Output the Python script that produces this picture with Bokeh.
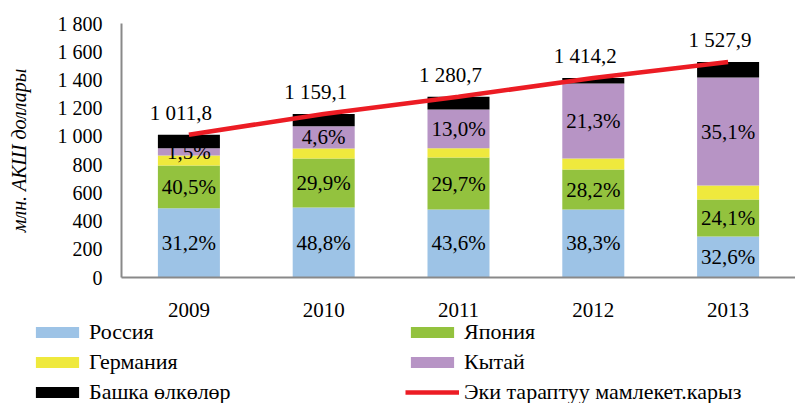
from bokeh.plotting import figure
from bokeh.layouts import column
from bokeh.models import ColumnDataSource, FactorRange, FixedTicker, Legend, LegendItem, Range1d
from bokeh.core.properties import value
from bokeh.embed import file_html
from bokeh.resources import INLINE

years = ["2009", "2010", "2011", "2012", "2013"]
russia = [491, 496, 482, 482, 291]
japan = [303, 347, 368, 283, 262]
germany = [71, 71, 66, 78, 99]
china = [51, 158, 275, 532, 765]
other = [96, 87, 90, 39, 111]
totals = [1011.8, 1159.1, 1280.7, 1414.2, 1527.9]

russia_pct = ["31,2%", "48,8%", "43,6%", "38,3%", "32,6%"]
japan_pct = ["40,5%", "29,9%", "29,7%", "28,2%", "24,1%"]
china_pct = ["1,5%", "4,6%", "13,0%", "21,3%", "35,1%"]
total_labels = ["1 011,8", "1 159,1", "1 280,7", "1 414,2", "1 527,9"]

y_ticks = [0, 200, 400, 600, 800, 1000, 1200, 1400, 1600, 1800]
y_tick_labels = ["0", "200", "400", "600", "800", "1 000", "1 200", "1 400", "1 600", "1 800"]

series_names = ["Россия", "Япония", "Германия", "Кытай", "Башка өлкөлөр"]
series_keys = ["russia", "japan", "germany", "china", "other"]
colors = ["#9DC3E6", "#93C23E", "#EFE93D", "#B794C5", "#000000"]
line_name = "Эки тараптуу мамлекет.карыз"
line_color = "#EC1C24"

FONT = "Liberation Serif"

src = ColumnDataSource(dict(years=years, russia=russia, japan=japan, germany=germany,
                            china=china, other=other))

p = figure(width=795, height=325, x_range=FactorRange(*years), y_range=Range1d(0, 1800),
           output_backend="svg", toolbar_location=None,
           min_border_left=121, min_border_right=0, min_border_top=23, min_border_bottom=48)
p.frame_align = False
p.outline_line_color = None
p.xgrid.visible = False
p.ygrid.visible = False
p.background_fill_color = "white"
p.border_fill_color = "white"

bars = p.vbar_stack(series_keys, x="years", width=0.46, source=src, color=colors, line_color=None)

line = p.line(x=years, y=totals, line_color=line_color, line_width=4.5)

def mids(lower, seg):
    return [l + s / 2 for l, s in zip(lower, seg)]

zero = [0] * 5
r_top = russia
j_top = [a + b for a, b in zip(r_top, japan)]
g_top = [a + b for a, b in zip(j_top, germany)]
lab_x = years * 3
lab_y = mids(zero, russia) + mids(r_top, japan) + mids(g_top, china)
lab_t = russia_pct + japan_pct + china_pct
p.text(x=lab_x, y=lab_y, text=lab_t, text_align="center", text_baseline="middle",
       text_font=value(FONT), text_font_size="21px", text_color="black")

p.text(x=years, y=totals, text=total_labels, text_align="center", text_baseline="middle",
       x_offset=-8, y_offset=-22,
       text_font=value(FONT), text_font_size="21px", text_color="black")

for ax in (p.xaxis[0], p.yaxis[0]):
    ax.axis_line_color = "#898989"
    ax.axis_line_width = 2
    ax.major_tick_line_color = None
    ax.minor_tick_line_color = None
    ax.major_tick_out = 0
    ax.major_tick_in = 0
    ax.major_label_text_font = FONT
    ax.major_label_text_color = "black"

p.yaxis.ticker = FixedTicker(ticks=y_ticks)
p.yaxis.major_label_overrides = {t: l for t, l in zip(y_ticks, y_tick_labels)}
p.yaxis.major_label_text_font_size = "20px"
p.yaxis.major_label_standoff = 19
p.yaxis.axis_label = "млн. АКШ доллары"
p.yaxis.axis_label_text_font = FONT
p.yaxis.axis_label_text_font_style = "italic"
p.yaxis.axis_label_text_font_size = "20px"
p.yaxis.axis_label_text_color = "black"
p.yaxis.axis_label_standoff = 25

p.xaxis.major_label_text_font_size = "21px"
p.xaxis.major_label_standoff = 25

# legend panel below the chart
lg = figure(width=795, height=78, x_range=Range1d(0, 1), y_range=Range1d(0, 1),
            output_backend="svg", toolbar_location=None,
            min_border_left=0, min_border_right=0, min_border_top=0, min_border_bottom=0)
lg.frame_align = False
lg.axis.visible = False
lg.grid.visible = False
lg.outline_line_color = None
lg.border_fill_color = "white"
lg.background_fill_color = "white"

# off-screen proxy glyphs that only serve as legend keys
dummies = [lg.vbar(x=[-10], top=[0], width=0.5, fill_color=c, line_color=None) for c in colors]
dline = lg.line(x=[-10, -9], y=[0, 0], line_color=line_color, line_width=4.5)

items = [
    LegendItem(label=series_names[0], renderers=[dummies[0]]),
    LegendItem(label=series_names[1], renderers=[dummies[1]]),
    LegendItem(label=series_names[2], renderers=[dummies[2]]),
    LegendItem(label=series_names[3], renderers=[dummies[3]]),
    LegendItem(label=series_names[4], renderers=[dummies[4]]),
    LegendItem(label=line_name, renderers=[dline]),
]
legend = Legend(items=items, ncols=2, orientation="horizontal", location=(30, -2),
                glyph_width=54, glyph_height=14, label_standoff=5, spacing=4,
                label_width=312, label_height=20, padding=0, margin=0,
                label_text_font=FONT, label_text_font_size="22px", label_text_color="black",
                border_line_alpha=0, background_fill_alpha=0)
lg.add_layout(legend, "center")

layout = column(p, lg, spacing=0)
open("out.html", "w").write(file_html(layout, INLINE))
